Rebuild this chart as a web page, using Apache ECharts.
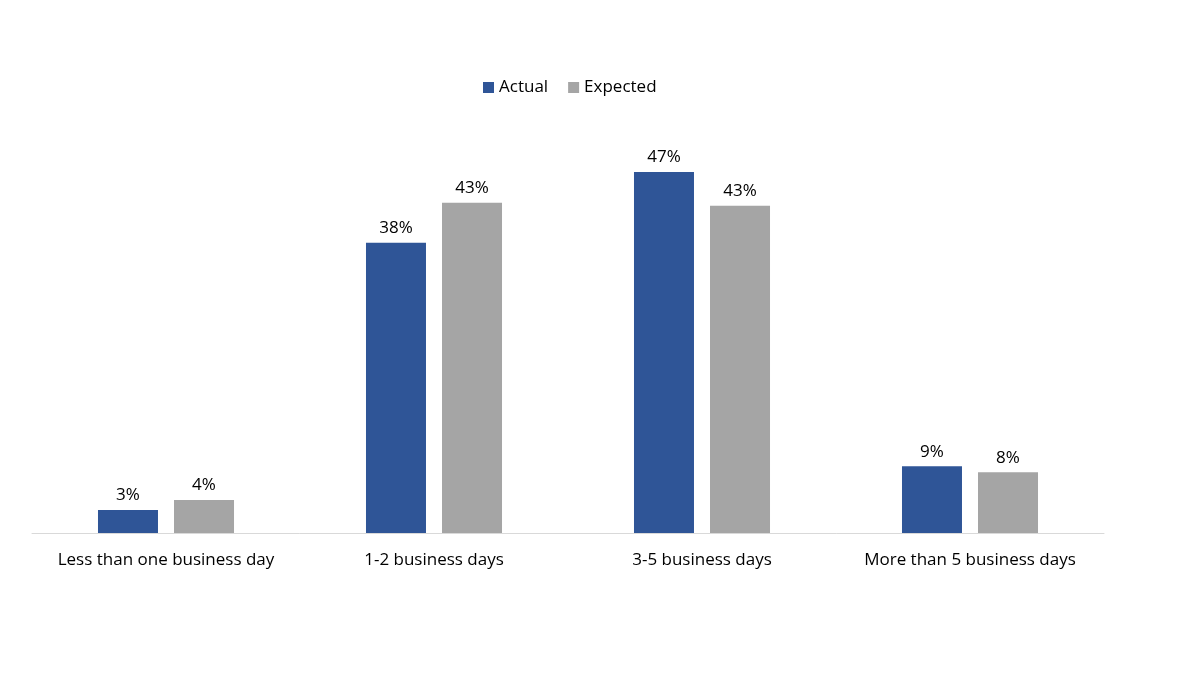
<!DOCTYPE html>
<html>
<head>
<meta charset="utf-8">
<script src="https://cdn.jsdelivr.net/npm/echarts@6/dist/echarts.min.js"></script>
<style>
  html, body { margin: 0; padding: 0; background: #fff; }
  #chart { width: 1200px; height: 675px; }
</style>
</head>
<body>
<div id="chart"></div>
<script>
var categories = ['Less than one business day', '1-2 business days', '3-5 business days', 'More than 5 business days'];
var actual = [3.0, 37.8, 47.0, 8.7];
var expected = [4.3, 43.0, 42.6, 7.9];

var myChart = echarts.init(document.getElementById('chart'));

var labelStyle = {
  show: true,
  position: 'top',
  distance: 6,
  color: '#000',
  fontSize: 17,
  fontFamily: 'Open Sans',
  formatter: function (p) { return Math.round(p.value) + '%'; }
};

myChart.setOption({
  animation: false,
  textStyle: { fontFamily: 'Open Sans' },
  legend: {
    data: ['Actual', 'Expected'],
    left: 478,
    top: 74,
    itemWidth: 11,
    itemHeight: 11,
    itemGap: 20,
    icon: 'rect',
    textStyle: { fontSize: 17, color: '#000', padding: [0, 0, 0, 0] }
  },
  grid: { left: 32, right: 96, top: 149, bottom: 142 },
  xAxis: {
    type: 'category',
    data: categories,
    axisLine: { lineStyle: { color: '#d9d9d9', width: 1 } },
    axisTick: { show: false },
    axisLabel: { color: '#000', fontSize: 17, margin: 19, interval: 0 }
  },
  yAxis: {
    type: 'value',
    min: 0,
    max: 50,
    show: false
  },
  series: [
    {
      name: 'Actual',
      type: 'bar',
      barWidth: 60,
      barGap: '26.7%',
      itemStyle: { color: '#2f5597' },
      label: labelStyle,
      data: actual
    },
    {
      name: 'Expected',
      type: 'bar',
      barWidth: 60,
      itemStyle: { color: '#a5a5a5' },
      label: labelStyle,
      data: expected
    }
  ]
});
</script>
</body>
</html>
